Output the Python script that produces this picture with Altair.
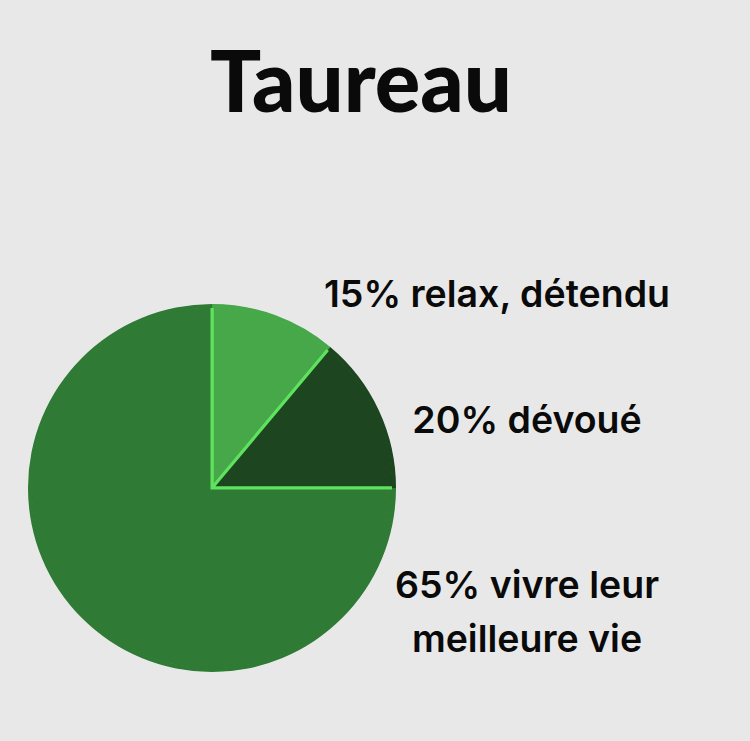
import altair as alt
import pandas as pd

# Data (slice angles in degrees, clockwise from 12 o'clock)
categories = ["relax, détendu", "dévoué", "vivre leur meilleure vie"]
slice_degrees = [40, 50, 270]
order = [1, 2, 3]
colors = ["#46A848", "#1C4520", "#2F7A35"]
label_texts = ["15% relax, détendu", "20% dévoué", "65% vivre leur\nmeilleure vie"]
title_text = "Taureau"

df = pd.DataFrame({"cat": categories, "deg": slice_degrees, "ord": order})

CX, CY, R = 212, 488, 182

color_scale = alt.Scale(domain=categories, range=colors)

pie = alt.Chart(df).mark_arc(
    outerRadius=R, stroke="#5FE35F", strokeWidth=3, strokeJoin="miter"
).encode(
    theta=alt.Theta("deg:Q", stack=True),
    order=alt.Order("ord:Q"),
    color=alt.Color("cat:N", scale=color_scale, legend=None),
    x=alt.value(CX),
    y=alt.value(CY),
)

ring = alt.Chart(df).mark_arc(
    innerRadius=R - 2, outerRadius=R + 2
).encode(
    theta=alt.Theta("deg:Q", stack=True),
    order=alt.Order("ord:Q"),
    color=alt.Color("cat:N", scale=color_scale, legend=None),
    x=alt.value(CX),
    y=alt.value(CY),
)

def txt(text, x, y, size, font, weight):
    return alt.Chart(pd.DataFrame({"t": [text]})).mark_text(
        font=font, fontSize=size, fontWeight=weight, color="#0A0A0A",
        align="center", baseline="alphabetic", lineBreak="\n", lineHeight=54
    ).encode(text="t:N", x=alt.value(x), y=alt.value(y))

title = txt(title_text, 361, 112, 85, "Lato", 900)
l1 = txt(label_texts[0], 497, 307, 37.5, "Inter", 600)
l2 = txt(label_texts[1], 527, 433, 37.5, "Inter", 600)
l3 = txt(label_texts[2], 527, 598, 37.5, "Inter", 600)

chart = alt.layer(pie, ring, title, l1, l2, l3).properties(
    width=750, height=741, background="#E8E8E8",
    autosize=alt.AutoSizeParams(type="none"), padding=0
).configure_view(stroke=None)

chart.save("out.html", embed_options={"renderer": "svg", "actions": False})
